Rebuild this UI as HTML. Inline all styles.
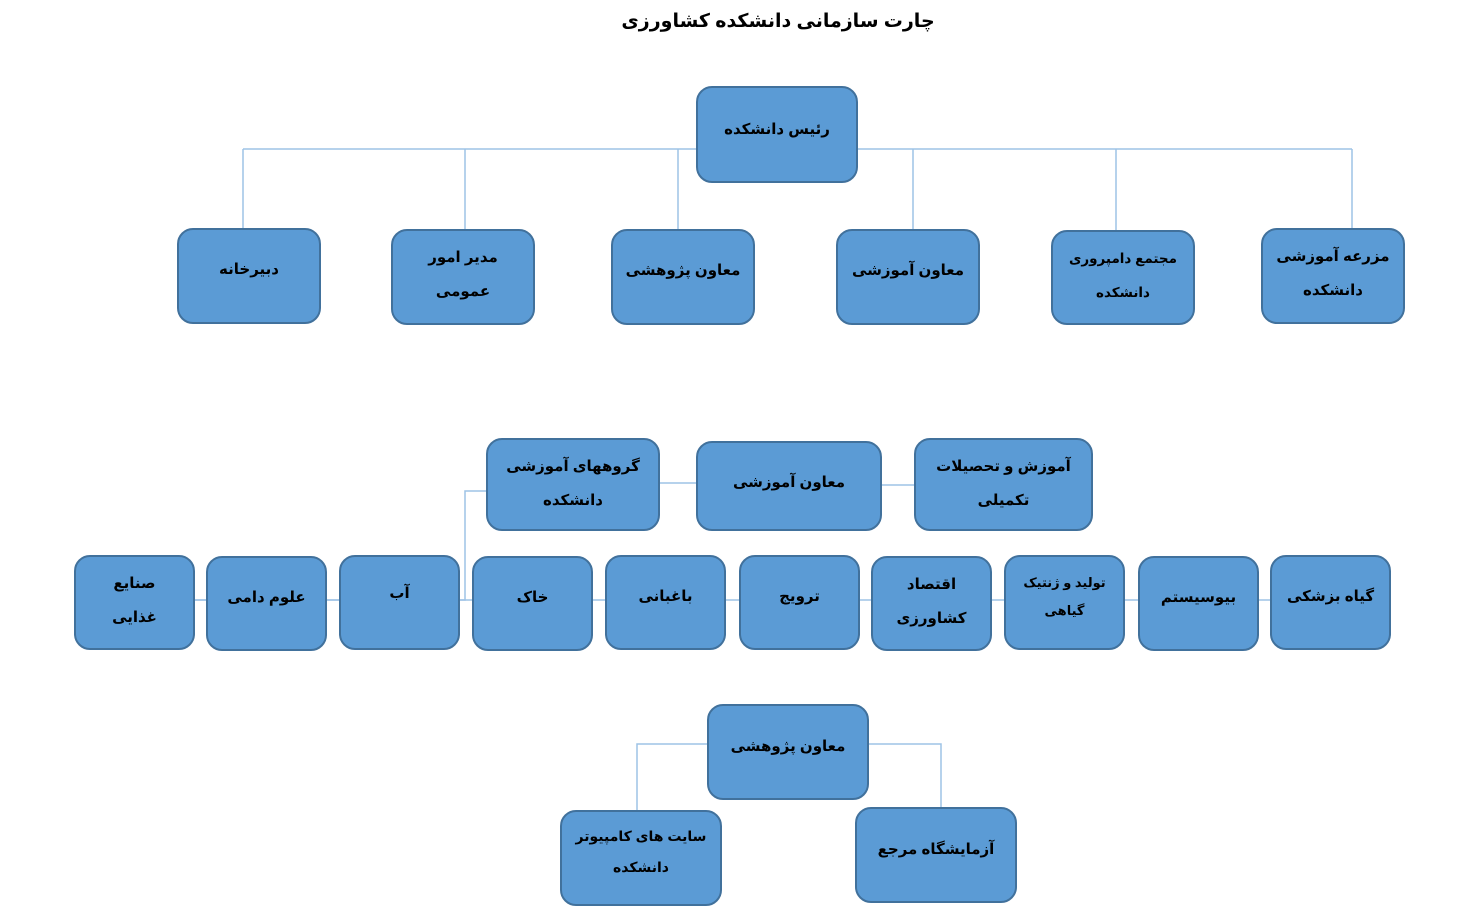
<!DOCTYPE html>
<html><head><meta charset="utf-8"><style>
body{margin:0;width:1471px;height:914px;background:#fff;position:relative;overflow:hidden;font-family:"Liberation Sans","DejaVu Sans",sans-serif;}
.b{position:absolute;box-sizing:border-box;background:#5b9bd5;border:2px solid #41719c;border-radius:16px;text-align:center;font-weight:bold;color:#000;direction:rtl;font-size:15px;line-height:34px;}
.s{padding-top:23px}.d{padding-top:10px}
.t{position:absolute;left:0;top:10px;text-align:center;font-weight:bold;font-size:19px;direction:rtl;}
svg{position:absolute;left:0;top:0}
</style></head><body>
<div class="t" style="width:1556px">چارت سازمانی دانشکده کشاورزی</div>
<svg width="1471" height="914"><g stroke="#9dc3e6" stroke-width="1.5" fill="none">
<path d="M243 149H1352M243 149V228M465 149V229M678 149V229M913 149V229M1116 149V230M1352 149V228"/>
<path d="M659 483H696M881 485H914"/>
<path d="M486 491H465V600H74"/>
<path d="M74 600H1390"/>
<path d="M707 744H637V810M869 744H941V807"/>
</g></svg>
<div class="b s" style="left:696px;top:86px;width:162px;height:97px;padding-top:25px">رئیس دانشکده</div>
<div class="b s" style="left:177px;top:228px;width:144px;height:96px">دبیرخانه</div>
<div class="b d" style="left:391px;top:229px;width:144px;height:96px">مدیر امور<br>عمومی</div>
<div class="b s" style="left:611px;top:229px;width:144px;height:96px">معاون پژوهشی</div>
<div class="b s" style="left:836px;top:229px;width:144px;height:96px">معاون آموزشی</div>
<div class="b d" style="left:1051px;top:230px;width:144px;height:95px;font-size:13.5px">مجتمع دامپروری<br>دانشکده</div>
<div class="b d" style="left:1261px;top:228px;width:144px;height:96px">مزرعه آموزشی<br>دانشکده</div>

<div class="b d" style="left:486px;top:438px;width:174px;height:93px">گروههای آموزشی<br>دانشکده</div>
<div class="b s" style="left:696px;top:441px;width:186px;height:90px">معاون آموزشی</div>
<div class="b d" style="left:914px;top:438px;width:179px;height:93px">آموزش و تحصیلات<br>تکمیلی</div>

<div class="b d" style="left:74px;top:555px;width:121px;height:95px">صنایع<br>غذایی</div>
<div class="b s" style="left:206px;top:556px;width:121px;height:95px">علوم دامی</div>
<div class="b s" style="left:339px;top:555px;width:121px;height:95px;padding-top:20px">آب</div>
<div class="b s" style="left:472px;top:556px;width:121px;height:95px">خاک</div>
<div class="b s" style="left:605px;top:555px;width:121px;height:95px">باغبانی</div>
<div class="b s" style="left:739px;top:555px;width:121px;height:95px">ترویج</div>
<div class="b d" style="left:871px;top:556px;width:121px;height:95px">اقتصاد<br>کشاورزی</div>
<div class="b d" style="left:1004px;top:555px;width:121px;height:95px;font-size:13px;line-height:28px;padding-top:12px">تولید و ژنتیک<br>گیاهی</div>
<div class="b s" style="left:1138px;top:556px;width:121px;height:95px">بیوسیستم</div>
<div class="b s" style="left:1270px;top:555px;width:121px;height:95px">گیاه بزشکی</div>

<div class="b s" style="left:707px;top:704px;width:162px;height:96px;padding-top:24px">معاون پژوهشی</div>
<div class="b d" style="left:560px;top:810px;width:162px;height:96px;font-size:14px;line-height:31px;padding-top:9px">سایت های کامپیوتر<br>دانشکده</div>
<div class="b s" style="left:855px;top:807px;width:162px;height:96px;padding-top:24px">آزمایشگاه مرجع</div>
</body></html>
